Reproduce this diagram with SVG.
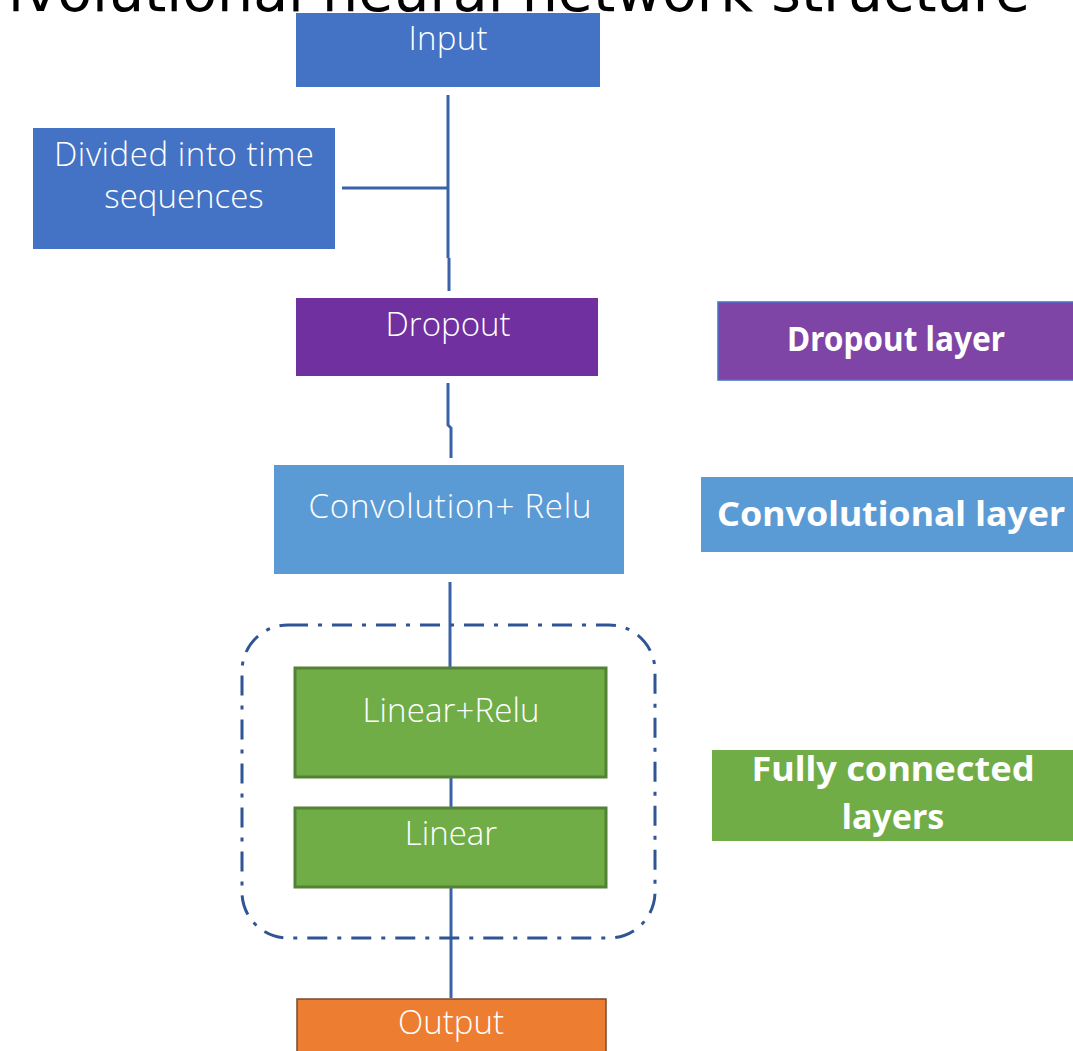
<svg xmlns="http://www.w3.org/2000/svg" width="1073" height="1051" viewBox="0 0 1073 1051">
  <style>
    .lbl { font-family: "Open Sans", "Noto Sans", sans-serif; font-weight: 300; font-size: 33px; fill: #ffffff; text-anchor: middle; }
    .tag { font-family: "Noto Sans", "Open Sans", sans-serif; font-weight: bold; font-size: 34px; fill: #ffffff; text-anchor: middle; }
    .wire { stroke: #3A62A8; stroke-width: 3; fill: none; }
    .fc { fill: #70AD47; stroke: #548235; stroke-width: 3; }
  </style>
  <rect width="1073" height="1051" fill="#ffffff"/>

  <!-- title, running off the top edge -->
  <text x="1030" y="11" font-family="DejaVu Sans, sans-serif" font-size="57" fill="#000000" text-anchor="end">Convolutional neural network structure</text>

  <!-- connectors -->
  <g id="connectors">
    <path class="wire" d="M448 95 V258 M449 258 V291"/>
    <path class="wire" d="M342 188 H448"/>
    <path class="wire" d="M448 383 V425 L451 428 V458"/>
    <path class="wire" d="M450 582 V667"/>
    <path class="wire" d="M451 778 V807"/>
    <path class="wire" d="M451 888 V998"/>
  </g>

  <!-- fully connected group outline -->
  <rect id="fc-group" x="242" y="625" width="413" height="313" rx="46" ry="46" fill="none" stroke="#2F5597" stroke-width="3" stroke-dasharray="20 10 4 10"/>

  <g id="input">
    <rect x="296" y="13" width="304" height="74" fill="#4472C4"/>
    <text class="lbl" x="448" y="50" textLength="79">Input</text>
  </g>

  <g id="split">
    <rect x="33" y="128" width="302" height="121" fill="#4472C4"/>
    <text class="lbl" x="184" y="166" textLength="260">Divided into time</text>
    <text class="lbl" x="184" y="208">sequences</text>
  </g>

  <g id="dropout">
    <rect x="296" y="298" width="302" height="78" fill="#7030A0"/>
    <text class="lbl" x="448" y="336" textLength="125">Dropout</text>
  </g>

  <g id="conv">
    <rect x="274" y="465" width="350" height="109" fill="#5B9BD5"/>
    <text class="lbl" x="450" y="518" textLength="283">Convolution+ Relu</text>
  </g>

  <g id="linear-relu">
    <rect class="fc" x="295" y="668" width="311" height="109"/>
    <text class="lbl" x="451" y="722" textLength="177">Linear+Relu</text>
  </g>

  <g id="linear">
    <rect class="fc" x="295" y="808" width="311" height="79"/>
    <text class="lbl" x="451" y="845">Linear</text>
  </g>

  <g id="output">
    <rect x="297" y="999" width="309" height="60" fill="#ED7D31" stroke="#7A4A2A" stroke-width="1.5"/>
    <text class="lbl" x="451" y="1034">Output</text>
  </g>

  <g id="legend-dropout">
    <rect x="718" y="302" width="360" height="78" fill="#7E44A6" stroke="#4472C4" stroke-width="1.5"/>
    <text class="tag" x="896" y="351" font-size="33" textLength="218" lengthAdjust="spacingAndGlyphs">Dropout layer</text>
  </g>

  <g id="legend-conv">
    <rect x="701" y="477" width="380" height="75" fill="#5B9BD5"/>
    <text class="tag" x="891" y="526" font-size="35" textLength="348" lengthAdjust="spacingAndGlyphs">Convolutional layer</text>
  </g>

  <g id="legend-fc">
    <rect x="712" y="750" width="365" height="91" fill="#70AD47"/>
    <text class="tag" x="893" y="781" textLength="283" lengthAdjust="spacingAndGlyphs">Fully connected</text>
    <text class="tag" x="893" y="829">layers</text>
  </g>
</svg>
